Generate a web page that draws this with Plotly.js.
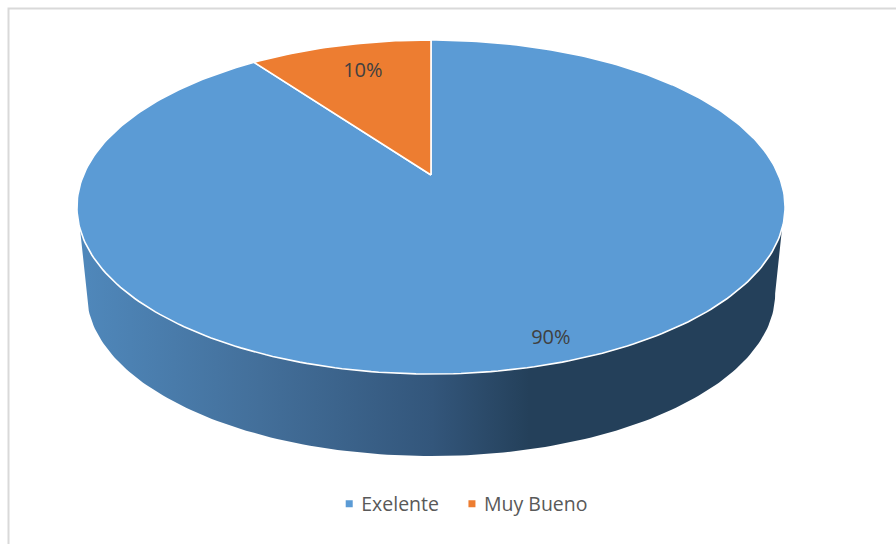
<!DOCTYPE html>
<html>
<head>
<meta charset="utf-8">
<script src="https://cdn.plot.ly/plotly-3.0.1.min.js"></script>
<style>html,body{margin:0;padding:0;background:#fff;overflow:hidden}</style>
</head>
<body>
<div id="chart" style="width:896px;height:544px"></div>
<script>
// Data
const categories = ['Exelente', 'Muy Bueno'];
const seriesValues = [90, 10];
const sliceColors = ['#5B9BD5', '#ED7D31'];

// Perspective disc drawn through the x/y axes (axis units = page pixels)
const cx = 431, cy = 175, bx = 347.5, by = 160.9, k = -0.1916;
const depth = 87.6, shrink = 0.972;
const total = seriesValues.reduce((a, b) => a + b, 0);
function rim(deg, f = 1) {
  const t = deg * Math.PI / 180, u = Math.sin(t) * f, v = -Math.cos(t) * f;
  const d = 1 + k * v;
  return [bx * u / d, by * v / d];
}
const top_ = (deg, f) => { const p = rim(deg, f); return [cx + p[0], cy + p[1]]; };
const bottom_ = deg => { const p = rim(deg); return [cx + shrink * p[0], cy + depth + shrink * p[1]]; };
function sweep(a, b, fn) {
  const out = [], n = Math.max(2, Math.ceil(Math.abs(b - a)));
  for (let i = 0; i <= n; i++) out.push(fn(a + (b - a) * i / n));
  return out;
}

const traces = [];
// side wall
const wall = sweep(108.4, 251.6, d => top_(d)).concat(sweep(259, 101, bottom_));
traces.push({
  type: 'scatter', mode: 'lines', hoverinfo: 'skip', showlegend: false,
  x: wall.map(p => p[0]).concat(wall[0][0]), y: wall.map(p => p[1]).concat(wall[0][1]),
  line: {width: 0}, fill: 'toself',
  fillgradient: {type: 'horizontal', start: 87, stop: 778,
    colorscale: [[0, '#4F87BA'], [0.25, '#436F9A'], [0.5, '#33567B'], [0.64, '#24405A'], [1, '#24405A']]}
});
// top slices: first slice runs clockwise from 12 o'clock, last one ends there
let start = 0;
const labelX = [], labelY = [], labelText = [];
const labelRadius = [0.892, 0.784];
seriesValues.forEach((v, i) => {
  const sweepDeg = v / total * 360, end = start + sweepDeg;
  const pts = [[cx, cy]].concat(sweep(start, end, d => top_(d))).concat([[cx, cy]]);
  traces.push({
    type: 'scatter', mode: 'lines', hoverinfo: 'skip', showlegend: false,
    x: pts.map(p => p[0]), y: pts.map(p => p[1]),
    fill: 'toself', fillcolor: sliceColors[i],
    line: {color: '#ffffff', width: 1.6}
  });
  const mid = top_((start + end) / 2, labelRadius[i]);
  labelX.push(mid[0] + 5.5); labelY.push(mid[1] + 1.5);
  labelText.push(Math.round(v / total * 100) + '%');
  start = end;
});
traces.push({
  type: 'scatter', mode: 'text', hoverinfo: 'skip', showlegend: false,
  x: labelX, y: labelY, text: labelText, textposition: 'middle center',
  textfont: {family: '"Open Sans", sans-serif', size: 20, color: '#404040'}
});
// legend entries
categories.forEach((name, i) => traces.push({
  type: 'scatter', mode: 'markers', name, x: [null], y: [null],
  marker: {symbol: 'square', size: 7, color: sliceColors[i]}
}));

const layout = {
  width: 896, height: 544,
  margin: {l: 0, r: 0, t: 0, b: 0},
  paper_bgcolor: '#ffffff', plot_bgcolor: 'rgba(0,0,0,0)',
  xaxis: {range: [0, 896], visible: false, fixedrange: true},
  yaxis: {range: [544, 0], visible: false, fixedrange: true},
  showlegend: true,
  legend: {
    orientation: 'h', x: 0.3585, y: 0.0735, xanchor: 'left', yanchor: 'middle',
    font: {family: '"Open Sans", sans-serif', size: 19.5, color: '#595959'},
    itemwidth: 30, bgcolor: 'rgba(0,0,0,0)'
  },
  shapes: [{
    type: 'rect', xref: 'paper', yref: 'paper', layer: 'below',
    x0: 8.5 / 896, x1: 1.05, y0: -0.05, y1: 1 - 8.5 / 544,
    line: {color: '#D9D9D9', width: 2}, fillcolor: '#ffffff'
  }]
};
Plotly.newPlot('chart', traces, layout, {displayModeBar: false, staticPlot: true}).then(() => {
  // bring the legend swatches closer to their text
  document.querySelectorAll('.legend .legendsymbols').forEach(g => g.setAttribute('transform', 'translate(8,0)'));
});
</script>
</body>
</html>
